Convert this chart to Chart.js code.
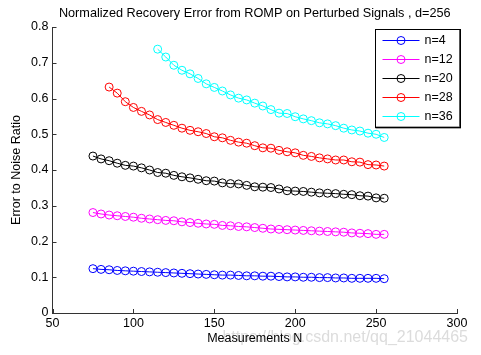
<!DOCTYPE html>
<html>
<head>
<meta charset="utf-8">
<script src="https://cdn.jsdelivr.net/npm/chart.js@4"></script>
<style>
html,body{margin:0;padding:0;background:#fff;}
#wrap{position:relative;width:481px;height:355px;}
canvas{display:block;}
</style>
</head>
<body>
<div id="wrap"><canvas id="c" width="481" height="355"></canvas></div>
<script>
// ---- data ----
const measurementsN = [75,80,85,90,95,100,105,110,115,120,125,130,135,140,145,150,155,160,165,170,175,180,185,190,195,200,205,210,215,220,225,230,235,240,245,250,255];
const seriesNames = ['n=4','n=12','n=20','n=28','n=36'];
const errN4  = [0.124,0.122,0.121,0.119,0.118,0.117,0.116,0.115,0.114,0.113,0.112,0.111,0.110,0.109,0.108,0.107,0.106,0.106,0.105,0.104,0.104,0.103,0.103,0.102,0.101,0.101,0.100,0.100,0.099,0.099,0.098,0.098,0.097,0.097,0.097,0.097,0.096];
const errN12 = [0.281,0.277,0.274,0.272,0.270,0.268,0.265,0.263,0.261,0.259,0.258,0.255,0.253,0.251,0.249,0.248,0.245,0.244,0.242,0.241,0.239,0.237,0.235,0.234,0.233,0.232,0.231,0.230,0.229,0.228,0.227,0.226,0.224,0.223,0.222,0.220,0.220];
const errN20 = [0.439,0.431,0.426,0.419,0.413,0.411,0.406,0.400,0.393,0.391,0.385,0.381,0.378,0.374,0.370,0.369,0.364,0.362,0.361,0.357,0.353,0.352,0.351,0.347,0.342,0.341,0.340,0.338,0.336,0.335,0.334,0.332,0.331,0.328,0.327,0.322,0.321];
const errN28 = [null,null,0.632,0.615,0.591,0.575,0.564,0.554,0.541,0.533,0.525,0.517,0.511,0.507,0.502,0.493,0.490,0.483,0.478,0.475,0.468,0.462,0.461,0.455,0.451,0.448,0.441,0.438,0.434,0.431,0.428,0.428,0.423,0.422,0.415,0.414,0.411];
const errN36 = [null,null,null,null,null,null,null,null,0.738,0.716,0.693,0.679,0.669,0.656,0.641,0.631,0.621,0.610,0.601,0.596,0.587,0.579,0.569,0.559,0.558,0.549,0.543,0.538,0.532,0.529,0.524,0.517,0.512,0.509,0.503,0.500,0.491];
const seriesColors = ['#0000ff','#ff00ff','#000000','#ff0000','#00ffff'];
const xTickValues = [50,100,150,200,250,300];
const xTickLabels = ['50','100','150','200','250','300'];
const yTickValues = [0,0.1,0.2,0.3,0.4,0.5,0.6,0.7,0.8];
const yTickLabels = ['0','0.1','0.2','0.3','0.4','0.5','0.6','0.7','0.8'];
const titleText = 'Normalized Recovery Error from ROMP on Perturbed Signals , d=256';
const xTitle = 'Measurements N';
const yTitle = 'Error to Noise Ratio';
const watermark = 'https://blog.csdn.net/qq_21044465';

const FONT = '"Liberation Sans", Arial, Helvetica, sans-serif';
const allSeries = [errN4, errN12, errN20, errN28, errN36];

const datasets = allSeries.map((vals, i) => ({
  label: seriesNames[i],
  data: measurementsN.map((x, j) => ({x: x, y: vals[j]})),
  borderColor: seriesColors[i],
  backgroundColor: 'rgba(0,0,0,0)',
  pointBackgroundColor: 'rgba(0,0,0,0)',
  pointBorderColor: seriesColors[i],
  borderWidth: 1,
  pointBorderWidth: 1,
  pointRadius: 4,
  pointStyle: 'circle',
  fill: false,
  tension: 0,
  spanGaps: false
}));

// inward tick marks (MATLAB style)
const inwardTicks = {
  id: 'inwardTicks',
  afterDatasetsDraw(chart) {
    const ctx = chart.ctx, ca = chart.chartArea;
    const xs = chart.scales.x, ys = chart.scales.y;
    ctx.save();
    ctx.strokeStyle = '#333';
    ctx.lineWidth = 1;
    ctx.beginPath();
    xs.ticks.forEach(t => {
      const px = Math.round(xs.getPixelForValue(t.value)) + 0.5;
      ctx.moveTo(px, ca.bottom); ctx.lineTo(px, ca.bottom - 4);
    });
    ys.ticks.forEach(t => {
      const py = Math.round(ys.getPixelForValue(t.value)) + 0.5;
      ctx.moveTo(ca.left, py); ctx.lineTo(ca.left + 4, py);
    });
    ctx.stroke();
    ctx.restore();
  }
};

// legend box inside the plot, top right
const boxLegend = {
  id: 'boxLegend',
  afterDraw(chart) {
    const ctx = chart.ctx, ca = chart.chartArea;
    const right = ca.right + 2, top = ca.top + 1.5;
    const w = 84.5, h = 98;
    const left = right - w;
    ctx.save();
    // shadow
    ctx.fillStyle = '#555';
    ctx.fillRect(left + 1, top + 1, w + 1, h + 1);
    ctx.fillStyle = '#fff';
    ctx.fillRect(left, top, w, h);
    ctx.strokeStyle = '#000';
    ctx.lineWidth = 1;
    ctx.strokeRect(Math.round(left) + 0.5, Math.round(top) + 0.5, Math.round(w), Math.round(h));
    ctx.font = '12.5px ' + FONT;
    ctx.textBaseline = 'middle';
    ctx.textAlign = 'left';
    chart.data.datasets.forEach((ds, i) => {
      const y = Math.round(top + 11.5 + i * 19) + 0.5;
      ctx.strokeStyle = ds.borderColor;
      ctx.beginPath();
      ctx.moveTo(left + 8, y); ctx.lineTo(left + 45, y);
      ctx.stroke();
      ctx.beginPath();
      ctx.arc(left + 26.5, y, 4, 0, Math.PI * 2);
      ctx.stroke();
      ctx.fillStyle = '#000';
      ctx.fillText(ds.label, left + 50, y + 0.5);
    });
    ctx.restore();
  }
};

// faint watermark text, behind everything
const watermarkPlugin = {
  id: 'watermarkPlugin',
  beforeDraw(chart) {
    const ctx = chart.ctx;
    ctx.save();
    ctx.font = '16px ' + FONT;
    ctx.fillStyle = '#dcdcdc';
    ctx.textAlign = 'right';
    ctx.textBaseline = 'alphabetic';
    ctx.fillText(watermark, 468, 342);
    ctx.restore();
  }
};

new Chart(document.getElementById('c'), {
  type: 'line',
  data: { datasets: datasets },
  options: {
    responsive: false,
    animation: false,
    devicePixelRatio: 1,
    layout: { padding: { left: 0, right: 24, top: 0, bottom: 0 } },
    plugins: {
      legend: { display: false },
      tooltip: { enabled: false },
      title: {
        display: true,
        text: titleText,
        fullSize: false,
        color: '#000',
        font: { family: FONT, size: 12.7, weight: 'normal' },
        padding: { top: 6, bottom: 5.76 }
      }
    },
    scales: {
      x: {
        type: 'linear',
        min: 50, max: 300,
        afterBuildTicks: s => { s.ticks = xTickValues.map(v => ({ value: v })); },
        afterFit: s => { s.height = 42; },
        ticks: {
          callback: (v, i) => xTickLabels[i],
          color: '#000',
          font: { family: FONT, size: 12.5 },
          padding: 3,
          maxRotation: 0
        },
        grid: { display: false, drawTicks: false },
        border: { display: true, color: '#333', width: 1 },
        title: {
          display: true, text: xTitle, color: '#000',
          font: { family: FONT, size: 12.5 },
          padding: { top: 0, bottom: 9 }
        }
      },
      y: {
        type: 'linear',
        min: 0, max: 0.8,
        afterBuildTicks: s => { s.ticks = yTickValues.map(v => ({ value: v })); },
        afterFit: s => { s.width = 52.5; },
        ticks: {
          callback: (v, i) => yTickLabels[i],
          color: '#000',
          font: { family: FONT, size: 12.5 },
          padding: 4
        },
        grid: { display: false, drawTicks: false },
        border: { display: true, color: '#333', width: 1 },
        title: {
          display: true, text: yTitle, color: '#000',
          font: { family: FONT, size: 12.5 },
          padding: { top: 9.5, bottom: 0 }
        }
      }
    }
  },
  plugins: [watermarkPlugin, inwardTicks, boxLegend]
});
</script>
</body>
</html>
